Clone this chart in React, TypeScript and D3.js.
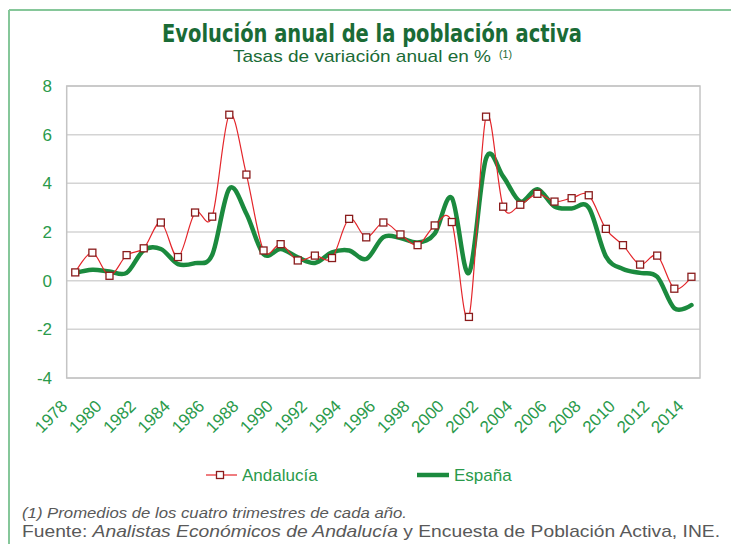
import React from "react";
import * as d3 from "d3";

const years: number[] = [
  1978, 1979, 1980, 1981, 1982, 1983, 1984, 1985, 1986, 1987, 1988, 1989, 1990,
  1991, 1992, 1993, 1994, 1995, 1996, 1997, 1998, 1999, 2000, 2001, 2002, 2003,
  2004, 2005, 2006, 2007, 2008, 2009, 2010, 2011, 2012, 2013, 2014,
];

const andalucia: number[] = [
  0.34, 1.15, 0.2, 1.05, 1.33, 2.39, 0.97, 2.8, 2.63, 6.82, 4.36, 1.24, 1.5,
  0.83, 1.03, 0.93, 2.54, 1.78, 2.39, 1.9, 1.46, 2.27, 2.41, -1.49, 6.74, 3.04,
  3.12, 3.57, 3.25, 3.39, 3.51, 2.13, 1.46, 0.66, 1.03, -0.33, 0.16,
];

const espana: number[] = [
  0.32, 0.45, 0.38, 0.32, 1.25, 1.3, 0.68, 0.72, 1.06, 3.78, 2.75, 1.09, 1.3,
  0.96, 0.73, 1.16, 1.24, 0.89, 1.79, 1.75, 1.57, 1.93, 3.4, 0.32, 5.02, 4.28,
  3.25, 3.76, 3.05, 2.97, 3.0, 1.0, 0.48, 0.32, 0.16, -1.13, -1.0,
];

const yTicks: number[] = [-4, -2, 0, 2, 4, 6, 8];
const xTickLabels: number[] = [
  1978, 1980, 1982, 1984, 1986, 1988, 1990, 1992, 1994, 1996, 1998, 2000, 2002,
  2004, 2006, 2008, 2010, 2012, 2014,
];

const seriesNames = ["Andalucía", "España"];

const W = 731;
const H = 544;
const plot = { left: 66.7, right: 700, top: 86, bottom: 378 };

const GREEN_TXT = "#2a9a4b";
const TITLE_GREEN = "#1a6b36";
const RED = "#e4262b";
const DARK_RED = "#8a1c1c";
const ES_GREEN = "#1b8a3e";
const GRAY_TXT = "#595959";

export default function App() {
  const x = d3
    .scalePoint<number>()
    .domain(years)
    .range([plot.left, plot.right])
    .padding(0.5);
  const y = d3.scaleLinear().domain([-4, 8]).range([plot.bottom, plot.top]);

  const curve = d3.curveCardinal.tension(0);
  const lineGen = d3
    .line<number>()
    .x((_, i) => x(years[i]) as number)
    .y((d) => y(d))
    .curve(curve);

  const andPath = lineGen(andalucia) || "";
  const esPath = lineGen(espana) || "";
  const ms = 7;

  return (
    <svg
      width={W}
      height={H}
      style={{ position: "absolute", left: 0, top: 0, background: "#fff" }}
      fontFamily="'Liberation Sans', Arial, sans-serif"
    >
      {/* frame */}
      <line x1={9} y1={10} x2={W} y2={10} stroke="#86c79a" strokeWidth={2} />
      <line x1={9} y1={10} x2={9} y2={H} stroke="#86c79a" strokeWidth={2} />

      {/* title */}
      <text
        x={372}
        y={42}
        textAnchor="middle"
        fontFamily="'Liberation Sans Narrow', 'DejaVu Sans Condensed', Arial, sans-serif"
        fontWeight="bold"
        fontSize={24}
        fill={TITLE_GREEN}
        textLength={420}
        lengthAdjust="spacingAndGlyphs"
      >
        Evolución anual de la población activa
      </text>
      <text
        x={233}
        y={62}
        fontSize={17}
        fill={TITLE_GREEN}
        textLength={258}
        lengthAdjust="spacingAndGlyphs"
      >
        Tasas de variación anual en %
      </text>
      <text
        x={499}
        y={58}
        fontSize={10}
        fill={TITLE_GREEN}
        textLength={13}
        lengthAdjust="spacingAndGlyphs"
      >
        (1)
      </text>

      {/* gridlines */}
      {yTicks.map((t) => (
        <line
          key={"g" + t}
          x1={plot.left}
          x2={plot.right}
          y1={y(t)}
          y2={y(t)}
          stroke="#d4d4d4"
          strokeWidth={1.5}
        />
      ))}
      <rect
        x={plot.left}
        y={plot.top}
        width={plot.right - plot.left}
        height={plot.bottom - plot.top}
        fill="none"
        stroke="#c4c4c4"
        strokeWidth={1.5}
      />

      {/* y labels */}
      {yTicks.map((t) => (
        <text
          key={"yl" + t}
          x={52}
          y={y(t)}
          dy="0.36em"
          textAnchor="end"
          fontSize={17}
          fill={GREEN_TXT}
        >
          {t}
        </text>
      ))}

      {/* x labels */}
      {xTickLabels.map((yr) => {
        const px = (x(yr) as number) - 11;
        const py = 403;
        return (
          <text
            key={"xl" + yr}
            x={px}
            y={py}
            dy="0.35em"
            textAnchor="end"
            fontSize={17}
            fill={GREEN_TXT}
            transform={`rotate(-45 ${px} ${py})`}
          >
            {yr}
          </text>
        );
      })}

      {/* España */}
      <path
        d={esPath}
        fill="none"
        stroke={ES_GREEN}
        strokeWidth={4.5}
        strokeLinejoin="round"
        strokeLinecap="round"
      />

      {/* Andalucía */}
      <path d={andPath} fill="none" stroke={RED} strokeWidth={1.2} />
      {andalucia.map((v, i) => (
        <rect
          key={"m" + i}
          x={(x(years[i]) as number) - ms / 2}
          y={y(v) - ms / 2}
          width={ms}
          height={ms}
          fill="#fff"
          stroke={DARK_RED}
          strokeWidth={1.3}
        />
      ))}

      {/* legend */}
      <line x1={206} x2={237} y1={475} y2={475} stroke={RED} strokeWidth={1.2} />
      <rect
        x={220 - 3.5}
        y={475 - 3.5}
        width={7}
        height={7}
        fill="#fff"
        stroke={DARK_RED}
        strokeWidth={1.3}
      />
      <text x={242} y={481} fontSize={17} fill={GREEN_TXT}>
        {seriesNames[0]}
      </text>
      <line
        x1={417}
        x2={449}
        y1={475}
        y2={475}
        stroke={ES_GREEN}
        strokeWidth={4.5}
      />
      <text x={454} y={481} fontSize={17} fill={GREEN_TXT}>
        {seriesNames[1]}
      </text>

      {/* footnotes */}
      <text
        x={22}
        y={518}
        fontSize={15}
        fontStyle="italic"
        fill={GRAY_TXT}
        textLength={385}
        lengthAdjust="spacingAndGlyphs"
      >
        (1) Promedios de los cuatro trimestres de cada año.
      </text>
      <text
        x={22}
        y={537}
        fontSize={17}
        fill={GRAY_TXT}
        textLength={698}
        lengthAdjust="spacingAndGlyphs"
      >
        Fuente: <tspan fontStyle="italic">Analistas Económicos de Andalucía</tspan>{" "}
        y Encuesta de Población Activa, INE.
      </text>
    </svg>
  );
}
